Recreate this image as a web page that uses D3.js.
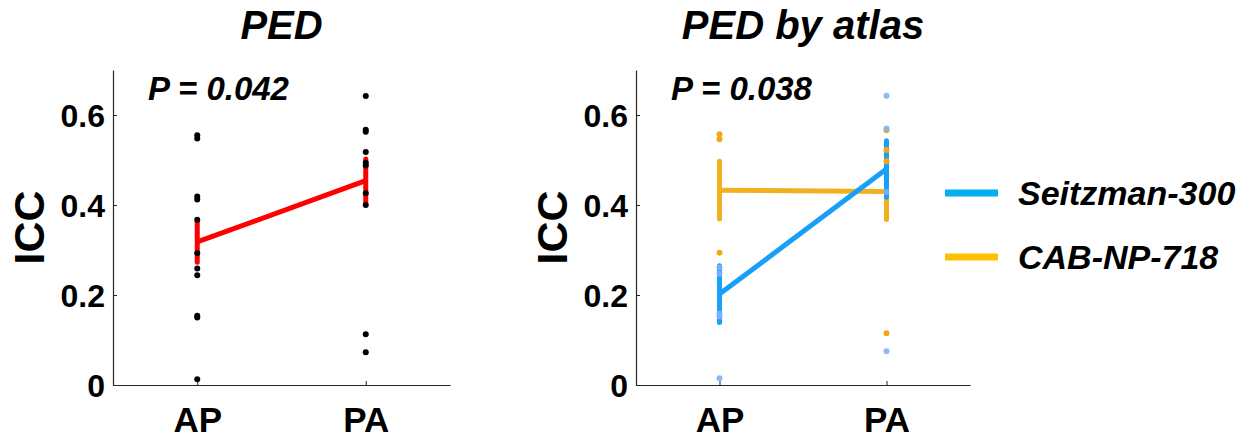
<!DOCTYPE html>
<html>
<head>
<meta charset="utf-8">
<script src="https://cdn.jsdelivr.net/npm/d3@7/dist/d3.min.js"></script>
<style>
  body { margin: 0; background: #fff; }
  svg { display: block; font-family: "Liberation Sans", Arial, sans-serif; }
</style>
</head>
<body>
<svg id="chart" width="1251" height="440"></svg>
<script>
// ---- data ----
const categories = ["AP", "PA"];
const yTicks = [0, 0.2, 0.4, 0.6];
const yTickLabels = ["0", "0.2", "0.4", "0.6"];

// Panel 1: PED (pooled)
const pedAP = [0.555, 0.548, 0.419, 0.412, 0.367, 0.293, 0.259, 0.244, 0.154, 0.150, 0.013];
const pedPA = [0.642, 0.567, 0.563, 0.518, 0.494, 0.488, 0.426, 0.400, 0.113, 0.073];
const pedMean = [0.318, 0.454];
const pedErr = [0.045, 0.048];
const pedP = "P = 0.042";

// Panel 2: PED by atlas
const seitzAP = [0.261, 0.247, 0.159, 0.152, 0.015];
const seitzPA = [0.643, 0.570, 0.429, 0.075];
const seitzMean = [0.202, 0.480];
const seitzErr = [0.063, 0.063];
const cabAP = [0.557, 0.546, 0.294];
const cabPA = [0.566, 0.522, 0.497, 0.115];
const cabMean = [0.433, 0.430];
const cabErr = [0.064, 0.062];
const atlasP = "P = 0.038";
const legendLabels = ["Seitzman-300", "CAB-NP-718"];

// ---- drawing ----
const svg = d3.select("#chart");
const axisColor = "#262626";
const y = d3.scaleLinear().domain([0, 0.7]).range([385, 70]);

function panel(x0, x1, title, pText, groups) {
  const x = d3.scaleLinear().domain([0.5, 2.5]).range([x0, x1]);
  const g = svg.append("g");

  // axes
  const yAxis = d3.axisLeft(y).tickValues(yTicks).tickSizeInner(-4).tickSizeOuter(0)
    .tickFormat((d, i) => yTickLabels[i]).tickPadding(8);
  const ya = g.append("g").attr("transform", `translate(${x0},0)`).call(yAxis);
  ya.select(".domain").attr("stroke", axisColor).attr("stroke-width", 1.2);
  ya.selectAll(".tick line").attr("stroke", axisColor);
  ya.selectAll(".tick text").attr("font-size", 32).attr("font-weight", "bold").attr("fill", "#000")
    .attr("dy", "0.36em");

  const xAxis = d3.axisBottom(x).tickValues([1, 2]).tickSizeInner(-4).tickSizeOuter(0)
    .tickFormat((d, i) => categories[i]).tickPadding(22);
  const xa = g.append("g").attr("transform", `translate(0,${y(0)})`).call(xAxis);
  xa.select(".domain").attr("stroke", axisColor).attr("stroke-width", 1.2);
  xa.selectAll(".tick line").attr("stroke", axisColor);
  xa.selectAll(".tick text").attr("font-size", 35).attr("font-weight", "bold").attr("fill", "#000");

  // y label
  g.append("text").attr("transform", `translate(${x0 - 84},${y(0.35)}) rotate(-90)`)
    .attr("text-anchor", "middle").attr("dominant-baseline", "central")
    .attr("font-size", 43).attr("font-weight", "bold").text("ICC");

  // title
  g.append("text").attr("x", (x0 + x1) / 2).attr("y", 39).attr("text-anchor", "middle")
    .attr("font-size", 40).attr("font-weight", "bold").attr("font-style", "italic").text(title);

  // P value
  g.append("text").attr("x", x0 + 35).attr("y", 100)
    .attr("font-size", 33).attr("font-weight", "bold").attr("font-style", "italic").text(pText);

  // lines & error bars
  groups.forEach(grp => {
    grp.mean.forEach((m, i) => {
      g.append("line").attr("x1", x(i + 1)).attr("x2", x(i + 1))
        .attr("y1", y(m - grp.err[i])).attr("y2", y(m + grp.err[i]))
        .attr("stroke", grp.lineColor).attr("stroke-width", 5).attr("stroke-linecap", "round");
    });
    g.append("path").datum(grp.mean)
      .attr("d", d3.line().x((d, i) => x(i + 1)).y(d => y(d)))
      .attr("fill", "none").attr("stroke", grp.lineColor).attr("stroke-width", 5);
  });
  // dots
  groups.forEach(grp => {
    grp.pts.forEach((arr, i) => {
      g.selectAll(null).data(arr).enter().append("circle")
        .attr("cx", x(i + 1)).attr("cy", d => y(d)).attr("r", 3)
        .attr("fill", grp.dotColor).attr("fill-opacity", grp.dotOpacity);
    });
  });
}

panel(113, 450, "PED", pedP, [
  { mean: pedMean, err: pedErr, pts: [pedAP, pedPA], lineColor: "#ff0000", dotColor: "#000", dotOpacity: 1 }
]);
panel(636, 970, "PED by atlas", atlasP, [
  { mean: cabMean, err: cabErr, pts: [cabAP, cabPA], lineColor: "#f0b020", dotColor: "#f0a818", dotOpacity: 1 },
  { mean: seitzMean, err: seitzErr, pts: [seitzAP, seitzPA], lineColor: "#18a0f8", dotColor: "#7fb0ff", dotOpacity: 0.9 }
]);

// legend
const legendColors = ["#00b0f0", "#ffc000"];
const legendY = [193, 257];
legendLabels.forEach((lab, i) => {
  svg.append("line").attr("x1", 945).attr("x2", 998).attr("y1", legendY[i]).attr("y2", legendY[i])
    .attr("stroke", legendColors[i]).attr("stroke-width", 7);
  svg.append("text").attr("x", 1018).attr("y", legendY[i]).attr("dominant-baseline", "central")
    .attr("font-size", 34).attr("font-weight", "bold").attr("font-style", "italic").text(lab);
});
</script>
</body>
</html>
